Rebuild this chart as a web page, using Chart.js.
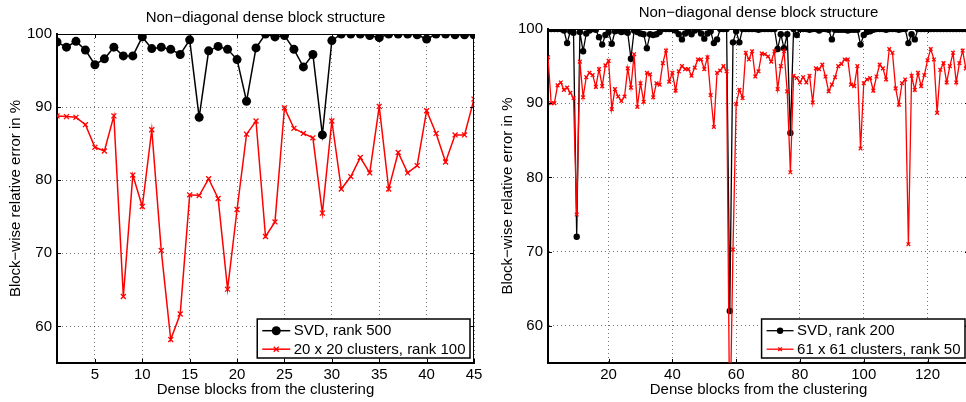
<!DOCTYPE html>
<html>
<head>
<meta charset="utf-8">
<title>Block-wise relative error</title>
<script src="https://cdn.jsdelivr.net/npm/chart.js@4.4.1/dist/chart.umd.min.js"></script>
<style>
  html, body { margin: 0; padding: 0; background: #fff; overflow: hidden; }
  body { width: 966px; height: 402px; position: relative; }
  canvas { position: absolute; top: 0; }
</style>
</head>
<body>
<canvas id="leftChart" width="490" height="402" style="left:0"></canvas>
<canvas id="rightChart" width="490" height="402" style="left:490px"></canvas>
<script>
const chartTitle = 'Non\u2212diagonal dense block structure';
const xTitle = 'Dense blocks from the clustering';
const yTitle = 'Block\u2212wise relative error in %';
const yTicks = [60, 70, 80, 90, 100];

// left panel: 45 dense blocks
const leftXTicks = [5, 10, 15, 20, 25, 30, 35, 40, 45];
const leftSvd = [98.9, 98.2, 99.0, 97.8, 95.8, 96.6, 98.2, 97.0, 97.0, 99.6,
  98.0, 98.2, 97.9, 97.2, 99.2, 88.6, 97.7, 98.3, 97.9, 96.5,
  90.8, 98.1, 100.0, 99.6, 99.8, 97.9, 95.5, 97.2, 86.2, 99.1,
  100.0, 100.0, 100.0, 99.8, 99.5, 100.0, 100.0, 100.0, 99.9, 99.3,
  100.0, 100.0, 99.9, 99.9, 99.9];
const leftClusters = [88.8, 88.7, 88.6, 87.6, 84.5, 84.0, 88.8, 64.1, 80.7, 76.4,
  86.9, 70.4, 58.2, 61.7, 78.0, 77.9, 80.2, 77.5, 65.1, 76.0,
  86.3, 88.1, 72.3, 74.3, 89.9, 87.1, 86.4, 85.8, 75.5, 88.1,
  78.8, 80.5, 83.1, 81.0, 90.1, 78.8, 83.8, 81.0, 82.0, 89.5,
  86.4, 82.5, 86.2, 86.2, 91.1];

// right panel: 132 dense blocks
const rightXTicks = [20, 40, 60, 80, 100, 120];
const rightSvd = [100.0, 100.0, 100.0, 100.0, 100.0, 99.8, 98.1, 99.7, 99.5, 72.0,
  99.6, 97.0, 99.4, 99.8, 100.0, 99.9, 98.9, 97.9, 99.2, 99.6,
  98.0, 99.7, 99.8, 99.6, 99.7, 99.5, 96.0, 99.8, 99.6, 99.4,
  99.3, 97.4, 99.3, 99.2, 99.3, 99.6, 100.0, 100.0, 100.0, 100.0,
  99.8, 99.3, 98.6, 99.4, 99.7, 99.3, 99.8, 100.0, 99.4, 98.7,
  99.4, 99.7, 98.1, 98.6, 100.0, 100.0, 100.0, 62.0, 98.2, 99.7,
  98.2, 100.0, 100.0, 100.0, 100.0, 100.0, 99.9, 100.0, 100.0, 100.0,
  100.0, 100.0, 97.3, 99.3, 97.4, 99.3, 86.0, 100.0, 99.2, 100.0,
  100.0, 100.0, 99.9, 100.0, 100.0, 99.8, 100.0, 100.0, 99.9, 98.6,
  99.9, 99.9, 99.9, 99.9, 99.8, 99.9, 99.9, 99.9, 97.9, 99.2,
  99.6, 99.7, 99.9, 100.0, 100.0, 100.0, 99.9, 100.0, 100.0, 100.0,
  99.9, 100.0, 100.0, 98.1, 99.3, 98.6, 100.0, 100.0, 100.0, 100.0,
  100.0, 100.0, 100.0, 100.0, 100.0, 100.0, 100.0, 100.0, 100.0, 100.0,
  100.0, 100.0];
const rightClusters = [96.2, 90.0, 90.0, 92.4, 92.8, 91.8, 92.1, 91.4, 90.7, 75.0,
  95.6, 90.8, 93.5, 94.1, 93.8, 92.2, 94.6, 92.3, 95.1, 95.7,
  89.2, 91.9, 90.9, 90.3, 90.9, 94.7, 92.1, 96.6, 89.5, 92.7,
  90.2, 94.1, 93.9, 90.8, 92.7, 92.5, 95.4, 97.1, 92.9, 94.1,
  91.7, 94.3, 95.0, 94.6, 94.6, 93.7, 94.8, 95.9, 95.9, 94.6,
  96.2, 91.1, 86.8, 94.1, 94.4, 95.0, 94.3, 45.0, 70.3, 89.9,
  91.8, 90.7, 96.8, 95.9, 97.0, 93.6, 94.3, 96.7, 96.6, 96.3,
  95.6, 97.0, 91.9, 95.0, 97.0, 91.6, 80.7, 93.7, 93.4, 92.8,
  93.5, 92.8, 93.7, 90.1, 94.7, 94.6, 95.2, 93.6, 91.6, 92.5,
  93.5, 95.0, 95.3, 95.9, 95.9, 92.5, 92.3, 95.0, 83.9, 92.7,
  93.2, 93.4, 91.7, 93.6, 95.2, 94.7, 93.2, 97.3, 96.8, 92.0,
  89.8, 92.7, 93.2, 71.0, 93.7, 91.8, 94.1, 92.3, 93.8, 95.8,
  97.3, 95.9, 88.7, 94.5, 95.4, 92.8, 95.0, 96.8, 92.8, 95.4,
  97.1, 94.7];

const fontFamily = '"Liberation Sans", Arial, Helvetica, sans-serif';
Chart.defaults.font.family = fontFamily;
Chart.defaults.font.size = 15;
Chart.defaults.color = '#000';

// box, inward tick marks, title and legend in the MATLAB look
const framePlugin = {
  id: 'matlabFrame',
  afterDraw(chart, args, opts) {
    const { ctx, chartArea: a, scales } = chart;
    ctx.save();
    ctx.strokeStyle = '#000';
    ctx.lineWidth = 1;
    ctx.beginPath();
    ctx.moveTo(a.left, a.top + 0.5);
    ctx.lineTo(a.right, a.top + 0.5);
    ctx.moveTo(a.right - 0.5, a.top);
    ctx.lineTo(a.right - 0.5, a.bottom);
    ctx.stroke();

    ctx.beginPath();
    scales.x.ticks.forEach(t => {
      const px = Math.round(scales.x.getPixelForValue(t.value)) + 0.5;
      ctx.moveTo(px, a.bottom); ctx.lineTo(px, a.bottom - 4);
      ctx.moveTo(px, a.top); ctx.lineTo(px, a.top + 4);
    });
    scales.y.ticks.forEach(t => {
      const py = Math.round(scales.y.getPixelForValue(t.value)) + 0.5;
      ctx.moveTo(a.left, py); ctx.lineTo(a.left + 4, py);
      ctx.moveTo(a.right, py); ctx.lineTo(a.right - 4, py);
    });
    ctx.stroke();

    ctx.fillStyle = '#000';
    ctx.font = '15px ' + fontFamily;
    ctx.textAlign = 'center';
    ctx.textBaseline = 'alphabetic';
    ctx.fillText(chartTitle, (a.left + a.right) / 2, opts.titleBaseline);

    // legend box at the lower right of the axes
    const sets = chart.data.datasets;
    ctx.textAlign = 'left';
    ctx.textBaseline = 'middle';
    const textW = Math.max(...sets.map(d => ctx.measureText(d.label).width));
    const w = 5 + opts.sample + 3.5 + textW + 4.5;
    const h = 39;
    const right = a.right - 4;
    const bottom = a.bottom - 5;
    const left = right - w;
    const top = bottom - h;
    ctx.fillStyle = '#fff';
    ctx.fillRect(left, top, w, h);
    ctx.strokeStyle = '#000';
    ctx.lineWidth = 1.5;
    ctx.strokeRect(left, top, w, h);
    sets.forEach((ds, k) => {
      const y = top + 11.7 + k * 18.5;
      const x0 = left + 5;
      const x1 = x0 + opts.sample;
      ctx.strokeStyle = ds.borderColor;
      ctx.lineWidth = ds.borderWidth;
      ctx.beginPath();
      ctx.moveTo(x0, y);
      ctx.lineTo(x1, y);
      ctx.stroke();
      ctx.fillStyle = ds.pointBackgroundColor;
      ctx.strokeStyle = ds.pointBorderColor;
      ctx.lineWidth = ds.pointBorderWidth;
      Chart.helpers.drawPoint(ctx, {
        pointStyle: ds.pointStyle,
        radius: ds.pointRadius,
        borderWidth: ds.pointBorderWidth,
        rotation: 0
      }, (x0 + x1) / 2, y);
      ctx.fillStyle = '#000';
      ctx.fillText(ds.label, x1 + 3.5, y + 0.5);
    });
    ctx.restore();
  }
};

function makePanel(id, cfg) {
  const ctx = document.getElementById(id).getContext('2d');
  const gridStyle = { color: 'rgba(0,0,0,0.55)', lineWidth: 1, drawTicks: false };
  const borderStyle = { display: true, color: '#000', width: 2, dash: [1, 3] };
  return new Chart(ctx, {
    type: 'line',
    data: {
      datasets: [
        {
          label: cfg.svdLabel,
          data: cfg.svd.map((v, i) => ({ x: i + 1, y: v })),
          borderColor: '#000',
          borderWidth: cfg.lineWidth,
          pointStyle: 'circle',
          pointRadius: cfg.dotRadius,
          pointBackgroundColor: '#000',
          pointBorderColor: '#000',
          pointBorderWidth: 0,
          tension: 0,
          order: 2
        },
        {
          label: cfg.clusterLabel,
          data: cfg.clusters.map((v, i) => ({ x: i + 1, y: v })),
          borderColor: '#ff0000',
          borderWidth: cfg.lineWidth,
          pointStyle: 'crossRot',
          pointRadius: cfg.crossRadius,
          pointBackgroundColor: '#ff0000',
          pointBorderColor: '#ff0000',
          pointBorderWidth: 1.3,
          tension: 0,
          order: 1
        }
      ]
    },
    options: {
      responsive: false,
      animation: false,
      events: [],
      layout: { padding: { top: cfg.padTop, right: cfg.padRight, left: 0, bottom: 0 } },
      plugins: {
        legend: { display: false },
        tooltip: { enabled: false },
        matlabFrame: { titleBaseline: cfg.titleBaseline, sample: cfg.sample }
      },
      scales: {
        x: {
          type: 'linear',
          min: 1,
          max: cfg.xMax,
          afterBuildTicks: s => { s.ticks = cfg.xTicks.map(v => ({ value: v })); },
          afterFit: s => { s.height = 39; },
          grid: gridStyle,
          border: borderStyle,
          ticks: { padding: 3, maxRotation: 0, autoSkip: false, color: '#000' },
          title: { display: true, text: xTitle, color: '#000', padding: { top: 0, bottom: 3 } }
        },
        y: {
          min: 55,
          max: 100,
          afterBuildTicks: s => { s.ticks = yTicks.map(v => ({ value: v })); },
          afterFit: s => { s.width = cfg.yAxisWidth; },
          grid: gridStyle,
          border: borderStyle,
          ticks: { padding: 5, color: '#000' },
          title: { display: true, text: yTitle, color: '#000', padding: { top: cfg.yTitlePad, bottom: 0 } }
        }
      }
    },
    plugins: [framePlugin]
  });
}

makePanel('leftChart', {
  svd: leftSvd,
  clusters: leftClusters,
  svdLabel: 'SVD, rank 500',
  clusterLabel: '20 x 20 clusters, rank 100',
  xTicks: leftXTicks,
  xMax: 45,
  padTop: 34,
  padRight: 16,
  yAxisWidth: 57,
  yTitlePad: 6.8,
  titleBaseline: 22,
  lineWidth: 1.5,
  dotRadius: 4.5,
  crossRadius: 3.5,
  sample: 28
});

makePanel('rightChart', {
  svd: rightSvd,
  clusters: rightClusters,
  svdLabel: 'SVD, rank 200',
  clusterLabel: '61 x 61 clusters, rank 50',
  xTicks: rightXTicks,
  xMax: 133,
  padTop: 29,
  padRight: 11,
  yAxisWidth: 58,
  yTitlePad: 8.5,
  titleBaseline: 17,
  lineWidth: 1.3,
  dotRadius: 3.2,
  crossRadius: 2.6,
  sample: 27
});
</script>
</body>
</html>
